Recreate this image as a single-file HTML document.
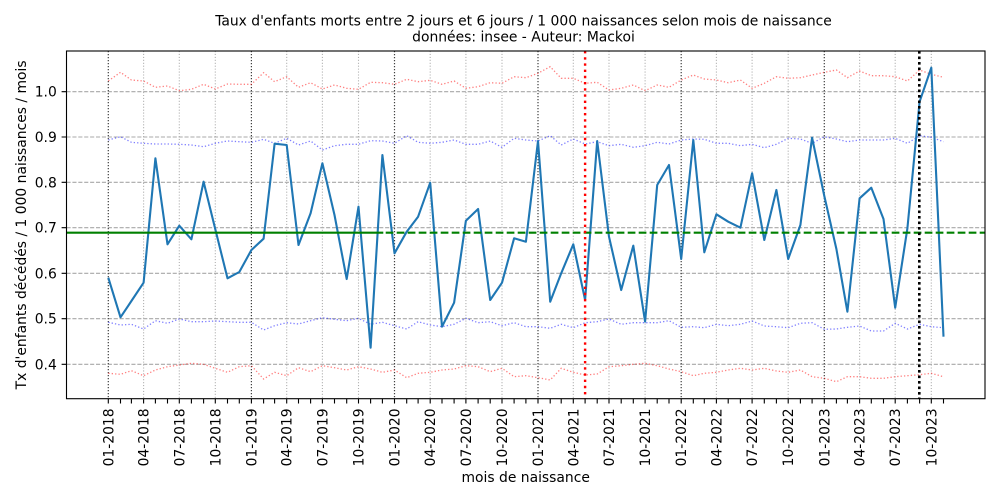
<!DOCTYPE html>
<html><head><meta charset="utf-8"><style>
html,body{margin:0;padding:0;background:#fff;}
svg{display:block;font-family:"DejaVu Sans","Liberation Sans",sans-serif;}
</style></head><body>
<svg width="1000" height="500" viewBox="0 0 1000 500" xmlns="http://www.w3.org/2000/svg">
<rect x="0" y="0" width="1000" height="500" fill="#fff"/>
<!-- horizontal grid -->
<g stroke="#a8a8a8" stroke-width="1.1" stroke-dasharray="4.1 1.8" fill="none">
<line x1="66.5" x2="985" y1="364.3" y2="364.3"/>
<line x1="66.5" x2="985" y1="318.7" y2="318.7"/>
<line x1="66.5" x2="985" y1="273.3" y2="273.3"/>
<line x1="66.5" x2="985" y1="227.7" y2="227.7"/>
<line x1="66.5" x2="985" y1="182.3" y2="182.3"/>
<line x1="66.5" x2="985" y1="137.0" y2="137.0"/>
<line x1="66.5" x2="985" y1="91.7" y2="91.7"/>
</g>
<!-- quarterly vertical grid -->
<g stroke="#b0b0b0" stroke-width="1.1" stroke-dasharray="1.1 1.83" fill="none">
<path d="M143.6 51V398.7M179.3 51V398.7M215.3 51V398.7M286.7 51V398.7M322.4 51V398.7M358.5 51V398.7M430.2 51V398.7M465.9 51V398.7M502 51V398.7M573.3 51V398.7M609 51V398.7M645.1 51V398.7M716.4 51V398.7M752.1 51V398.7M788.2 51V398.7M859.6 51V398.7M895.2 51V398.7M931.3 51V398.7"/>
</g>
<!-- january lines -->
<g stroke="#404040" stroke-width="1.2" stroke-dasharray="1.2 1.8" fill="none">
<path d="M108.3 51V398.7M251.4 51V398.7M394.5 51V398.7M538 51V398.7M681.2 51V398.7M824.3 51V398.7"/>
</g>
<!-- envelopes -->
<g fill="none" stroke-width="1.3" stroke-dasharray="1.3 2.1">
<polyline stroke="#ff0000" stroke-opacity="0.5" points="108.3,81 120.5,72.3 131.4,80 143.6,81 155.4,87.3 167.5,86 179.3,90.7 191.4,89.3 203.6,84.3 215.3,89 227.5,84 239.3,84.3 251.4,84.3 263.6,72.7 274.6,81.7 286.7,76.7 298.5,87.3 310.6,82.7 322.4,89 334.5,85 346.7,88.3 358.5,89.3 370.6,82.3 382.4,82.7 394.5,84.3 406.7,79.3 418.1,81.7 430.2,80.3 442,84.3 454.1,81 465.9,88.3 478.1,86.7 490.2,82.7 502,83.3 514.1,76.7 525.9,77.7 538,73.3 550.2,66.7 561.2,78.3 573.3,78.3 585.1,83.3 597.2,82.3 609,90 621.2,88.3 633.3,85 645.1,90.7 657.2,85 669,87.3 681.2,80 693.3,75 704.3,79 716.4,80 728.2,82.7 740.4,80 752.1,88.3 764.3,83.3 776.4,76.7 788.2,78.3 800.4,77.7 812.1,75 824.3,72.3 836.4,70 847.4,77.7 859.6,71 871.3,75.7 883.5,75.7 895.2,76.7 907.4,81 919.6,70 931.3,74.3 943.5,77.3"/>
<polyline stroke="#0000ff" stroke-opacity="0.5" points="108.3,140 120.5,136.7 131.4,142.3 143.6,143.3 155.4,144 167.5,144 179.3,144.3 191.4,145 203.6,146.7 215.3,143.3 227.5,141 239.3,141.7 251.4,142.3 263.6,139.3 274.6,143.3 286.7,138.3 298.5,145 310.6,141 322.4,150 334.5,145.7 346.7,144.3 358.5,144.3 370.6,140.7 382.4,141 394.5,143.3 406.7,135.7 418.1,142.3 430.2,143.3 442,142.3 454.1,140 465.9,144.3 478.1,144.3 490.2,141 502,147.3 514.1,138.3 525.9,140 538,141 550.2,135.7 561.2,145 573.3,139 585.1,144 597.2,141.7 609,145.7 621.2,144.3 633.3,147.3 645.1,145.7 657.2,142.3 669,144 681.2,140 693.3,139 704.3,139.3 716.4,143.3 728.2,143.3 740.4,145.7 752.1,144.3 764.3,147.7 776.4,144.3 788.2,138.3 800.4,139 812.1,143.3 824.3,136.7 836.4,139 847.4,141.7 859.6,140 871.3,140 883.5,140 895.2,138.3 907.4,143.3 919.6,135.7 931.3,137.3 943.5,141.7"/>
<polyline stroke="#0000ff" stroke-opacity="0.5" points="108.3,322.3 120.5,325 131.4,324.3 143.6,329 155.4,320.7 167.5,323.3 179.3,319 191.4,321.7 203.6,321.7 215.3,321 227.5,321.7 239.3,322.3 251.4,322.3 263.6,330 274.6,325.7 286.7,322.7 298.5,324 310.6,320.7 322.4,317.7 334.5,319.3 346.7,320.7 358.5,318.3 370.6,324.3 382.4,322.3 394.5,325.7 406.7,329 418.1,321.7 430.2,325 442,326.7 454.1,324.3 465.9,318.3 478.1,322.7 490.2,321.7 502,325.7 514.1,322.7 525.9,326.7 538,326.7 550.2,328.3 561.2,324.3 573.3,327.7 585.1,322.7 597.2,321.7 609,319 621.2,324.3 633.3,322.7 645.1,322.7 657.2,322.7 669,320.7 681.2,327.3 693.3,326.7 704.3,327.7 716.4,324.3 728.2,325.7 740.4,324.3 752.1,321 764.3,326 776.4,326.7 788.2,327.7 800.4,323.3 812.1,322.7 824.3,329.3 836.4,329 847.4,327.3 859.6,326 871.3,331 883.5,331 895.2,323.3 907.4,329 919.6,324.3 931.3,326.7 943.5,327.7"/>
<polyline stroke="#ff0000" stroke-opacity="0.5" points="108.3,373.3 120.5,374.3 131.4,370.7 143.6,375.7 155.4,370 167.5,366.7 179.3,365 191.4,363.3 203.6,364.3 215.3,368.3 227.5,372.3 239.3,366.7 251.4,365.7 263.6,379 274.6,372.3 286.7,375.7 298.5,367.7 310.6,371.7 322.4,365.7 334.5,367.7 346.7,370 358.5,366.7 370.6,369 382.4,372.3 394.5,370 406.7,377.7 418.1,373.3 430.2,372.3 442,370 454.1,369 465.9,365.7 478.1,366.7 490.2,371.7 502,368.3 514.1,376.7 525.9,375.7 538,377.7 550.2,380 561.2,368.3 573.3,372.3 585.1,375 597.2,374 609,366.7 621.2,365.7 633.3,364.3 645.1,363.3 657.2,365.7 669,369 681.2,371.7 693.3,375.7 704.3,373.3 716.4,372.3 728.2,370 740.4,368.3 752.1,370 764.3,368.3 776.4,371 788.2,372.3 800.4,370 812.1,376.7 824.3,378.3 836.4,381.7 847.4,376.7 859.6,376.7 871.3,378.3 883.5,378.3 895.2,376.7 907.4,375.7 919.6,374.7 931.3,373.3 943.5,376.7"/>
</g>
<!-- main series -->
<polyline fill="none" stroke="#1f77b4" stroke-width="2.1" stroke-linejoin="round" points="108.3,277.7 120.5,317.3 131.4,301 143.6,282.7 155.4,158.3 167.5,244.3 179.3,225.7 191.4,239.3 203.6,181.7 215.3,229.3 227.5,278.3 239.3,272 251.4,250 263.6,238.7 274.6,143.7 286.7,145 298.5,245 310.6,213.3 322.4,163.3 334.5,215 346.7,279 358.5,206.7 370.6,347.7 382.4,155 394.5,253.3 406.7,231.7 418.1,216.7 430.2,182.7 442,326.7 454.1,302.7 465.9,220.7 478.1,209 490.2,300 502,282.7 514.1,238.3 525.9,241.7 538,141 550.2,301.7 561.2,273.3 573.3,244.3 585.1,300 597.2,141 609,236.7 621.2,290 633.3,245.7 645.1,321.7 657.2,185 669,165 681.2,259 693.3,140 704.3,252.3 716.4,214.3 728.2,221.7 740.4,227.7 752.1,173.3 764.3,240 776.4,190 788.2,259 800.4,225 812.1,137.7 824.3,196 836.4,249 847.4,311.7 859.6,198.3 871.3,187.7 883.5,219 895.2,307.7 907.4,228.3 919.6,101.7 931.3,67.7 943.5,336.7"/>
<!-- green mean -->
<line x1="66.5" x2="383.3" y1="232.7" y2="232.7" stroke="#008000" stroke-width="2.1"/>
<line x1="385.7" x2="985" y1="232.7" y2="232.7" stroke="#008000" stroke-width="2.1" stroke-dasharray="7.7 3.3"/>
<!-- markers -->
<line x1="585.1" x2="585.1" y1="51" y2="398.7" stroke="#ff0000" stroke-width="2.4" stroke-dasharray="2.4 3.8"/>
<line x1="919.3" x2="919.3" y1="51" y2="398.7" stroke="#000" stroke-width="2.6" stroke-dasharray="2.6 2.9"/>
<!-- spines -->
<rect x="66.5" y="51" width="918.5" height="347.7" fill="none" stroke="#000" stroke-width="1.1"/>
<!-- y ticks -->
<path stroke="#000" stroke-width="1.1" d="M61.6 364.3H66.5M61.6 318.7H66.5M61.6 273.3H66.5M61.6 227.7H66.5M61.6 182.3H66.5M61.6 137H66.5M61.6 91.7H66.5"/>
<g font-size="13.89" fill="#000" text-anchor="end">
<text x="56.8" y="369.3">0.4</text>
<text x="56.8" y="323.7">0.5</text>
<text x="56.8" y="278.3">0.6</text>
<text x="56.8" y="232.7">0.7</text>
<text x="56.8" y="187.3">0.8</text>
<text x="56.8" y="142">0.9</text>
<text x="56.8" y="96.7">1.0</text>
</g>
<!-- x ticks -->
<path stroke="#000" stroke-width="1.1" d="M108.3 398.7v4.86M120.5 398.7v4.86M131.4 398.7v4.86M143.6 398.7v4.86M155.4 398.7v4.86M167.5 398.7v4.86M179.3 398.7v4.86M191.4 398.7v4.86M203.6 398.7v4.86M215.3 398.7v4.86M227.5 398.7v4.86M239.3 398.7v4.86M251.4 398.7v4.86M263.6 398.7v4.86M274.6 398.7v4.86M286.7 398.7v4.86M298.5 398.7v4.86M310.6 398.7v4.86M322.4 398.7v4.86M334.5 398.7v4.86M346.7 398.7v4.86M358.5 398.7v4.86M370.6 398.7v4.86M382.4 398.7v4.86M394.5 398.7v4.86M406.7 398.7v4.86M418.1 398.7v4.86M430.2 398.7v4.86M442 398.7v4.86M454.1 398.7v4.86M465.9 398.7v4.86M478.1 398.7v4.86M490.2 398.7v4.86M502 398.7v4.86M514.1 398.7v4.86M525.9 398.7v4.86M538 398.7v4.86M550.2 398.7v4.86M561.2 398.7v4.86M573.3 398.7v4.86M585.1 398.7v4.86M597.2 398.7v4.86M609 398.7v4.86M621.2 398.7v4.86M633.3 398.7v4.86M645.1 398.7v4.86M657.2 398.7v4.86M669 398.7v4.86M681.2 398.7v4.86M693.3 398.7v4.86M704.3 398.7v4.86M716.4 398.7v4.86M728.2 398.7v4.86M740.4 398.7v4.86M752.1 398.7v4.86M764.3 398.7v4.86M776.4 398.7v4.86M788.2 398.7v4.86M800.4 398.7v4.86M812.1 398.7v4.86M824.3 398.7v4.86M836.4 398.7v4.86M847.4 398.7v4.86M859.6 398.7v4.86M871.3 398.7v4.86M883.5 398.7v4.86M895.2 398.7v4.86M907.4 398.7v4.86M919.6 398.7v4.86M931.3 398.7v4.86M943.5 398.7v4.86"/>
<g font-size="13.89" fill="#000" text-anchor="end">
<text transform="translate(113.3,408.4) rotate(-90)">01-2018</text>
<text transform="translate(148.6,408.4) rotate(-90)">04-2018</text>
<text transform="translate(184.3,408.4) rotate(-90)">07-2018</text>
<text transform="translate(220.3,408.4) rotate(-90)">10-2018</text>
<text transform="translate(256.4,408.4) rotate(-90)">01-2019</text>
<text transform="translate(291.7,408.4) rotate(-90)">04-2019</text>
<text transform="translate(327.4,408.4) rotate(-90)">07-2019</text>
<text transform="translate(363.5,408.4) rotate(-90)">10-2019</text>
<text transform="translate(399.5,408.4) rotate(-90)">01-2020</text>
<text transform="translate(435.2,408.4) rotate(-90)">04-2020</text>
<text transform="translate(470.9,408.4) rotate(-90)">07-2020</text>
<text transform="translate(507,408.4) rotate(-90)">10-2020</text>
<text transform="translate(543,408.4) rotate(-90)">01-2021</text>
<text transform="translate(578.3,408.4) rotate(-90)">04-2021</text>
<text transform="translate(614,408.4) rotate(-90)">07-2021</text>
<text transform="translate(650.1,408.4) rotate(-90)">10-2021</text>
<text transform="translate(686.2,408.4) rotate(-90)">01-2022</text>
<text transform="translate(721.4,408.4) rotate(-90)">04-2022</text>
<text transform="translate(757.1,408.4) rotate(-90)">07-2022</text>
<text transform="translate(793.2,408.4) rotate(-90)">10-2022</text>
<text transform="translate(829.3,408.4) rotate(-90)">01-2023</text>
<text transform="translate(864.6,408.4) rotate(-90)">04-2023</text>
<text transform="translate(900.2,408.4) rotate(-90)">07-2023</text>
<text transform="translate(936.3,408.4) rotate(-90)">10-2023</text>
</g>
<!-- axis labels -->
<text x="525.7" y="482" font-size="13.89" text-anchor="middle">mois de naissance</text>
<text transform="translate(26,224.9) rotate(-90)" font-size="13.89" text-anchor="middle">Tx d'enfants décédés / 1 000 naissances / mois</text>
<!-- title -->
<text x="523.5" y="25.3" font-size="13.89" text-anchor="middle">Taux d'enfants morts entre 2 jours et 6 jours / 1 000 naissances selon mois de naissance</text>
<text x="523.5" y="41.5" font-size="13.89" text-anchor="middle">données: insee - Auteur: Mackoi</text>
</svg>
</body></html>
